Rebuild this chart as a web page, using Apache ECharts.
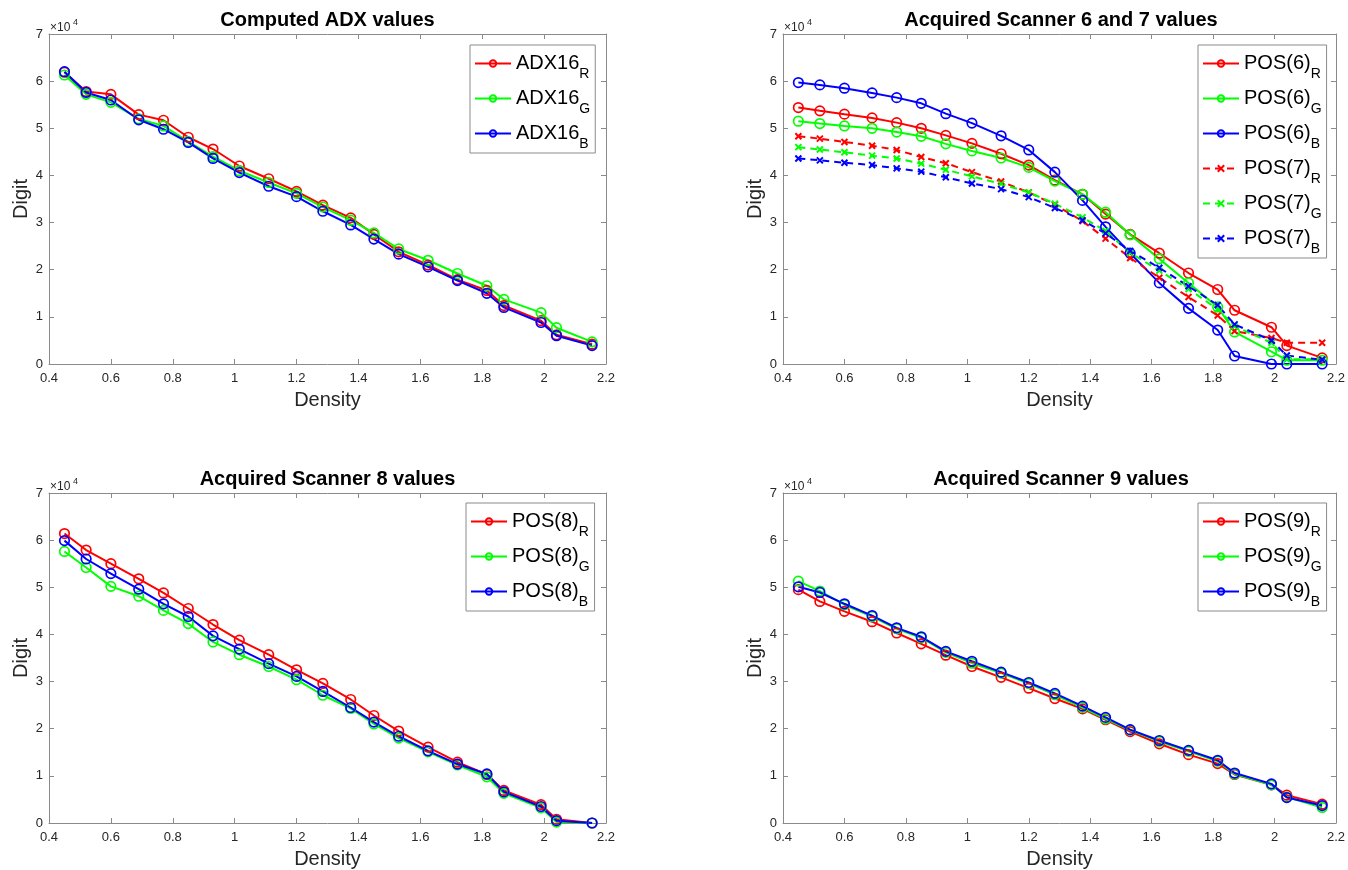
<!DOCTYPE html>
<html><head><meta charset="utf-8">
<script src="https://cdn.jsdelivr.net/npm/echarts@6/dist/echarts.min.js"></script>
<style>html,body{margin:0;padding:0;background:#fff}#c{width:1348px;height:870px}</style>
</head><body><div id="c"></div>
<script>
// ---- data ----
const density = [0.45,0.52,0.60,0.69,0.77,0.85,0.93,1.015,1.11,1.20,1.285,1.375,1.45,1.53,1.625,1.72,1.815,1.87,1.99,2.04,2.155];

const adxR = [61900,57800,57200,52900,51700,48100,45600,42000,39300,36600,33700,31000,27500,23800,21000,17900,15600,12400,9200,6200,4200];
const adxG = [61300,57200,55500,52000,50500,47200,44000,41000,38500,36200,33300,30500,27800,24400,22000,19200,16600,13700,10900,7700,4700];
const adxB = [62000,57600,56000,51800,49800,47000,43600,40600,37700,35500,32400,29500,26500,23300,20600,17700,15000,12000,8800,6000,3900];

const pos6R = [54400,53700,53000,52200,51200,50000,48500,46800,44600,42200,39000,36000,31800,27500,23500,19300,15800,11400,7800,3900,1300];
const pos6G = [51500,51000,50500,50000,49200,48300,46700,45200,43700,41700,38800,36000,32200,27400,22300,17200,12100,6800,2600,800,800];
const pos6B = [59700,59200,58500,57500,56500,55300,53100,51100,48400,45400,40700,34700,29100,23500,17200,11800,7200,1700,0,0,0];
const pos7R = [48300,47800,47100,46300,45400,43900,42600,40700,38700,36400,33800,30300,26600,22500,18300,14200,10300,7000,5500,4500,4500];
const pos7G = [46000,45500,44900,44200,43600,42500,41200,39800,38200,36400,34000,31100,28200,23600,19800,15900,11600,8000,4500,1000,1000];
const pos7B = [43600,43200,42700,42200,41500,40800,39600,38300,37100,35400,33100,30500,27700,24000,20400,16500,12500,8400,5000,1800,900];

const pos8R = [61400,57900,55000,51800,48800,45500,42100,38800,35700,32500,29600,26200,22800,19500,16100,12900,10300,6900,3900,800,0];
const pos8G = [57600,54200,50200,48100,45100,42300,38400,35700,33200,30400,27100,24300,21000,18000,15100,12300,9800,6300,3200,200,0];
const pos8B = [59900,56000,52900,49600,46500,43800,39700,36900,33800,31100,27900,24500,21400,18400,15300,12500,10400,6600,3500,500,0];

const pos9R = [49500,47000,44900,42700,40300,38000,35600,33200,30900,28600,26400,24200,21900,19400,16800,14500,12600,10300,8100,5900,4000];
const pos9G = [51300,49200,46300,43800,41200,39300,36200,33900,31800,29600,27200,24500,22100,19700,17300,15200,13100,10400,8100,5500,3300];
const pos9B = [50100,48900,46500,44000,41400,39500,36400,34300,32000,29800,27500,24800,22400,19800,17500,15400,13300,10600,8300,5400,3700];

const titles = ['Computed ADX values','Acquired Scanner 6 and 7 values','Acquired Scanner 8 values','Acquired Scanner 9 values'];
const xName = 'Density';
const yName = 'Digit';

// ---- styling ----
const FONT = '"Liberation Sans", Arial, Helvetica, sans-serif';
const RED = '#ff0000', GREEN = '#00ff00', BLUE = '#0000ff';
const AX = '#8a8a8a', TXT = '#262626';
const XMARK = 'path://M0,0L10,10M0,10L10,0';

const panels = [
  {left:49, top:34, width:557, height:330, legLeft:470, legTop:45, series:[
    {name:'ADX16|R', data:adxR, color:RED},
    {name:'ADX16|G', data:adxG, color:GREEN},
    {name:'ADX16|B', data:adxB, color:BLUE}]},
  {left:783, top:34, width:556, height:330, legLeft:1198, legTop:45, series:[
    {name:'POS(6)|R', data:pos6R, color:RED},
    {name:'POS(6)|G', data:pos6G, color:GREEN},
    {name:'POS(6)|B', data:pos6B, color:BLUE},
    {name:'POS(7)|R', data:pos7R, color:RED, dash:true},
    {name:'POS(7)|G', data:pos7G, color:GREEN, dash:true},
    {name:'POS(7)|B', data:pos7B, color:BLUE, dash:true}]},
  {left:49, top:493, width:557, height:330, legLeft:466, legTop:503, series:[
    {name:'POS(8)|R', data:pos8R, color:RED},
    {name:'POS(8)|G', data:pos8G, color:GREEN},
    {name:'POS(8)|B', data:pos8B, color:BLUE}]},
  {left:783, top:493, width:556, height:330, legLeft:1198, legTop:503, series:[
    {name:'POS(9)|R', data:pos9R, color:RED},
    {name:'POS(9)|G', data:pos9G, color:GREEN},
    {name:'POS(9)|B', data:pos9B, color:BLUE}]}
];

const xFmt = v => String(Math.round(v * 10) / 10);
const yFmt = v => String(Math.round(v / 1e4));

const grid = [], xAxis = [], yAxis = [], series = [], legend = [], graphic = [];
panels.forEach((p, i) => {
  grid.push({left:p.left, top:p.top, width:p.width, height:p.height});
  const lineAx = {show:true, onZero:false, lineStyle:{color:AX, width:1}};
  const tick = {show:true, inside:true, length:5, lineStyle:{color:AX}};
  xAxis.push({gridIndex:i, type:'value', position:'bottom', min:0.4, max:2.2, interval:0.2,
    axisLine:lineAx, axisTick:tick, splitLine:{show:false},
    axisLabel:{formatter:xFmt, color:TXT, fontSize:13, fontFamily:FONT, margin:8},
    name:xName, nameLocation:'middle', nameGap:26,
    nameTextStyle:{fontSize:20, color:TXT, fontFamily:FONT}});
  xAxis.push({gridIndex:i, type:'value', position:'top', min:0.4, max:2.2, interval:0.2,
    axisLine:lineAx, axisTick:tick, splitLine:{show:false}, axisLabel:{show:false}});
  yAxis.push({gridIndex:i, type:'value', position:'left', min:0, max:70000, interval:10000,
    axisLine:lineAx, axisTick:tick, splitLine:{show:false},
    axisLabel:{formatter:yFmt, color:TXT, fontSize:13, fontFamily:FONT, margin:6},
    name:yName, nameLocation:'middle', nameGap:17,
    nameTextStyle:{fontSize:20, color:TXT, fontFamily:FONT}});
  yAxis.push({gridIndex:i, type:'value', position:'right', min:0, max:70000, interval:10000,
    axisLine:lineAx, axisTick:tick, splitLine:{show:false}, axisLabel:{show:false}});

  p.series.forEach(s => {
    series.push({
      type:'line', name:s.name, xAxisIndex:2*i, yAxisIndex:2*i,
      data: density.map((d, k) => [d, s.data[k]]),
      symbol: s.dash ? XMARK : 'circle',
      symbolSize: s.dash ? 6 : 9.5,
      showSymbol:true, clip:false,
      lineStyle:{color:s.color, width:2, type: s.dash ? [7,5] : 'solid'},
      itemStyle:{color: s.dash ? s.color : 'rgba(255,255,255,0)', borderColor:s.color, borderWidth: s.dash ? 2 : 1.7},
      emphasis:{disabled:true}, animation:false
    });
  });

  legend.push({
    orient:'vertical', left:p.legLeft, top:p.legTop,
    data: p.series.map(s => s.name),
    itemWidth:36, itemHeight:8, itemGap:0,
    padding:[1,5,2,4], borderColor:AX, borderWidth:1, backgroundColor:'#fff',
    selectedMode:false,
    formatter: n => { const [a, b] = n.split('|'); return '{m|' + a + '}{s|' + b + '}'; },
    textStyle:{color:'#000', fontFamily:FONT, lineHeight:35, rich:{
      m:{fontSize:20, lineHeight:35, verticalAlign:'middle', fontFamily:FONT, color:'#000'},
      s:{fontSize:14, lineHeight:35, verticalAlign:'bottom', fontFamily:FONT, color:'#000'}}}
  });

  graphic.push({type:'text', x:p.left + p.width / 2, y:p.top - 14,
    style:{text:titles[i], font:'bold 20px ' + FONT, fill:'#000', align:'center', verticalAlign:'middle'}});
  graphic.push({type:'text', x:p.left + 1, y:p.top - 6,
    style:{text:'×10', font:'12px ' + FONT, fill:TXT, align:'left', verticalAlign:'middle'}});
  graphic.push({type:'text', x:p.left + 24, y:p.top - 11,
    style:{text:'4', font:'9px ' + FONT, fill:TXT, align:'left', verticalAlign:'middle'}});
});

const chart = echarts.init(document.getElementById('c'), null, {renderer:'canvas'});
chart.setOption({backgroundColor:'#fff', animation:false, grid, xAxis, yAxis, series, legend, graphic});
</script></body></html>
